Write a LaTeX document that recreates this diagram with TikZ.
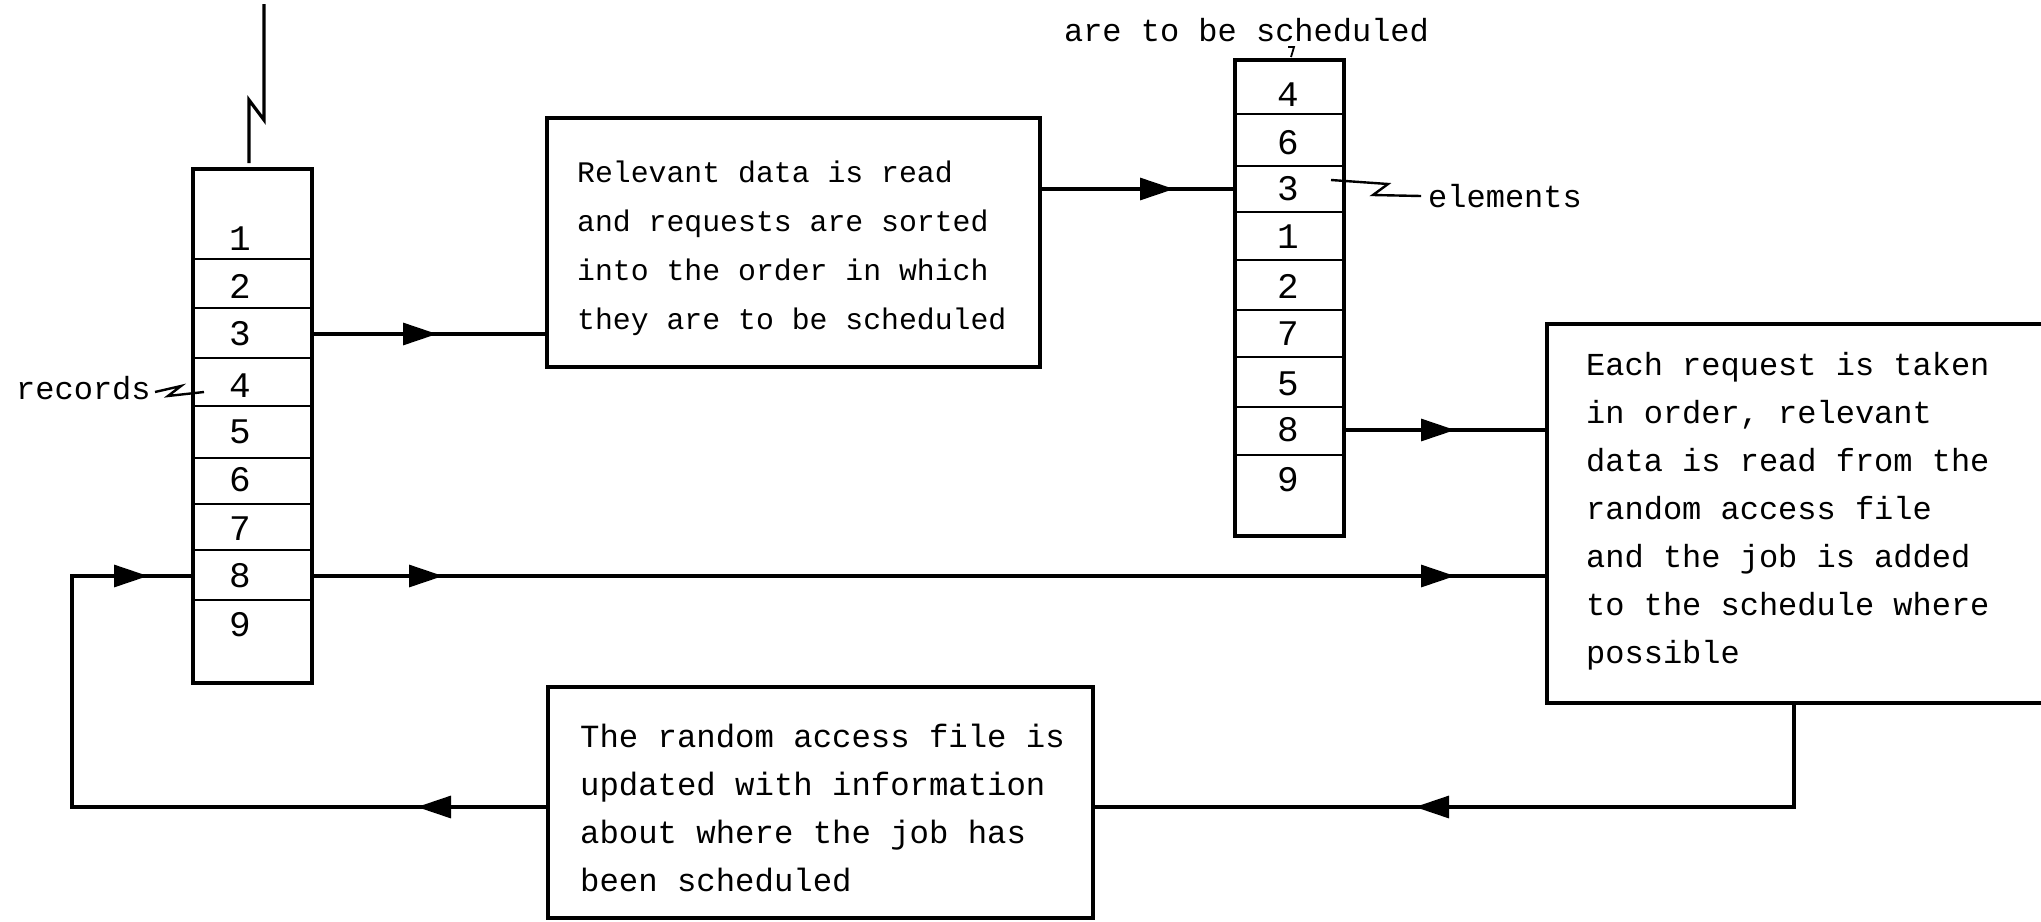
\documentclass[tikz,border=0pt]{standalone}
\usepackage{fontspec}
\newfontfamily\tw{Liberation Mono}
\usetikzlibrary{arrows.meta,decorations.markings}
\begin{document}
\begin{tikzpicture}[x=1pt,y=-1pt,
  >={Triangle[length=34pt,width=22pt]},
  outline/.style={draw, line width=4pt, inner sep=0pt, outer sep=0pt},
  txtblock/.style={inner sep=0pt, align=left},
  divider/.style={line width=2pt},
  conn/.style={line width=3.2pt},
  leader/.style={line width=2.4pt},
  num/.style={inner sep=0pt, font=\tw\fontsize{36}{36}\selectfont},
  lbl/.style={inner sep=0pt, font=\tw\fontsize{32}{40}\selectfont},
  tipat/.style={postaction={decorate}, decoration={markings, mark=at position #1 with {\arrow{>}}}},
  tipstwo/.style n args={2}{postaction={decorate}, decoration={markings, mark=at position #1 with {\arrow{>}}, mark=at position #2 with {\arrow{>}}}},
]
\useasboundingbox (0,0) rectangle (2041,921);
\fill[white] (0,0) rectangle (2041,921);
\clip (0,0) rectangle (2041,921);

% ---- left column (records)
\node[outline, minimum width=119pt, minimum height=514pt] (A) at (252.5,426) {};
\foreach \yy in {259,308,358,406,458,504,550,600}
  \draw[divider] (A.west |- 0,\yy) -- (A.east |- 0,\yy);
\node[num] (A1) at (240,239) {1};
\node[num] (A2) at (240,286) {2};
\node[num] (A3) at (240,334) {3};
\node[num] (A4) at (240,386) {4};
\node[num] (A5) at (240,432) {5};
\node[num] (A6) at (240,480) {6};
\node[num] (A7) at (240,529) {7};
\node[num] (A8) at (240,576) {8};
\node[num] (A9) at (240,625) {9};

% ---- right column (elements)
\node[outline, minimum width=109pt, minimum height=476pt] (C) at (1289.5,298) {};
\foreach \yy in {114,166,212,260,310,357,407,455}
  \draw[divider] (C.west |- 0,\yy) -- (C.east |- 0,\yy);
\node[num] (C1) at (1288,95) {4};
\node[num] (C2) at (1288,143) {6};
\node[num] (C3) at (1288,189) {3};
\node[num] (C4) at (1288,237) {1};
\node[num] (C5) at (1288,286) {2};
\node[num] (C6) at (1288,334) {7};
\node[num] (C7) at (1288,384) {5};
\node[num] (C8) at (1288,430) {8};
\node[num] (C9) at (1288,480) {9};

% ---- process boxes
\node[outline, minimum width=493pt, minimum height=249pt] (B) at (793.5,242.5) {};
\node[txtblock, anchor=west, font=\tw\fontsize{29.8}{49}\selectfont] (Btxt) at (577,248)
  {Relevant data is read\\and requests are sorted\\into the order in which\\they are to be scheduled};
\node[outline, anchor=north west, minimum width=540pt, minimum height=379pt] (E) at (1547,324) {};
\node[txtblock, anchor=west, font=\tw\fontsize{32}{48}\selectfont] (Etxt) at (1586,511)
  {Each request is taken\\in order, relevant\\data is read from the\\random access file\\and the job is added\\to the schedule where\\possible};
\node[outline, minimum width=545pt, minimum height=231pt] (D) at (820.5,802.5) {};
\node[txtblock, anchor=west, font=\tw\fontsize{32.3}{48}\selectfont] (Dtxt) at (580,808)
  {The random access file is\\updated with information\\about where the job has\\been scheduled};

% ---- labels
\node[lbl, anchor=west] (rec) at (16,388) {records};
\node[lbl, anchor=west] (elem) at (1428,196) {elements};
\node[lbl] (sched) at (1246.5,30) {are to be scheduled};

\draw[leader] (155,392) -- (181,386) -- (168,396) -- (204,392);
\draw[leader] (1331,180) -- (1388,184) -- (1373,195) -- (1421,196);
\draw[line width=1.8pt] (1288,47) -- (1294,47) -- (1291,57);
\draw[conn] (264,4) -- (264,120) -- (249,100) -- (249,163);

% ---- connectors
\coordinate (turnR) at (1794,807);
\coordinate (turnL) at (72,807);
\draw[conn, tipat=125pt] (A.east |- A3) -- (B.west |- A3);
\draw[conn, tipat=134pt] (B.east |- C3) -- (C.west |- C3);
\draw[conn, tipat=111pt] (C.east |- C8) -- (E.west |- C8);
\draw[conn, tipstwo={131pt}{1143pt}] (A.east |- A8) -- (E.west |- A8);
\draw[conn, tipat=483pt] (E.south -| turnR) -- (turnR) -- (D.east |- turnR);
\draw[conn, tipstwo={131pt}{783pt}] (D.west |- turnR) -- (turnL) -- (turnL |- A8) -- (A.west |- A8);
\end{tikzpicture}
\end{document}
